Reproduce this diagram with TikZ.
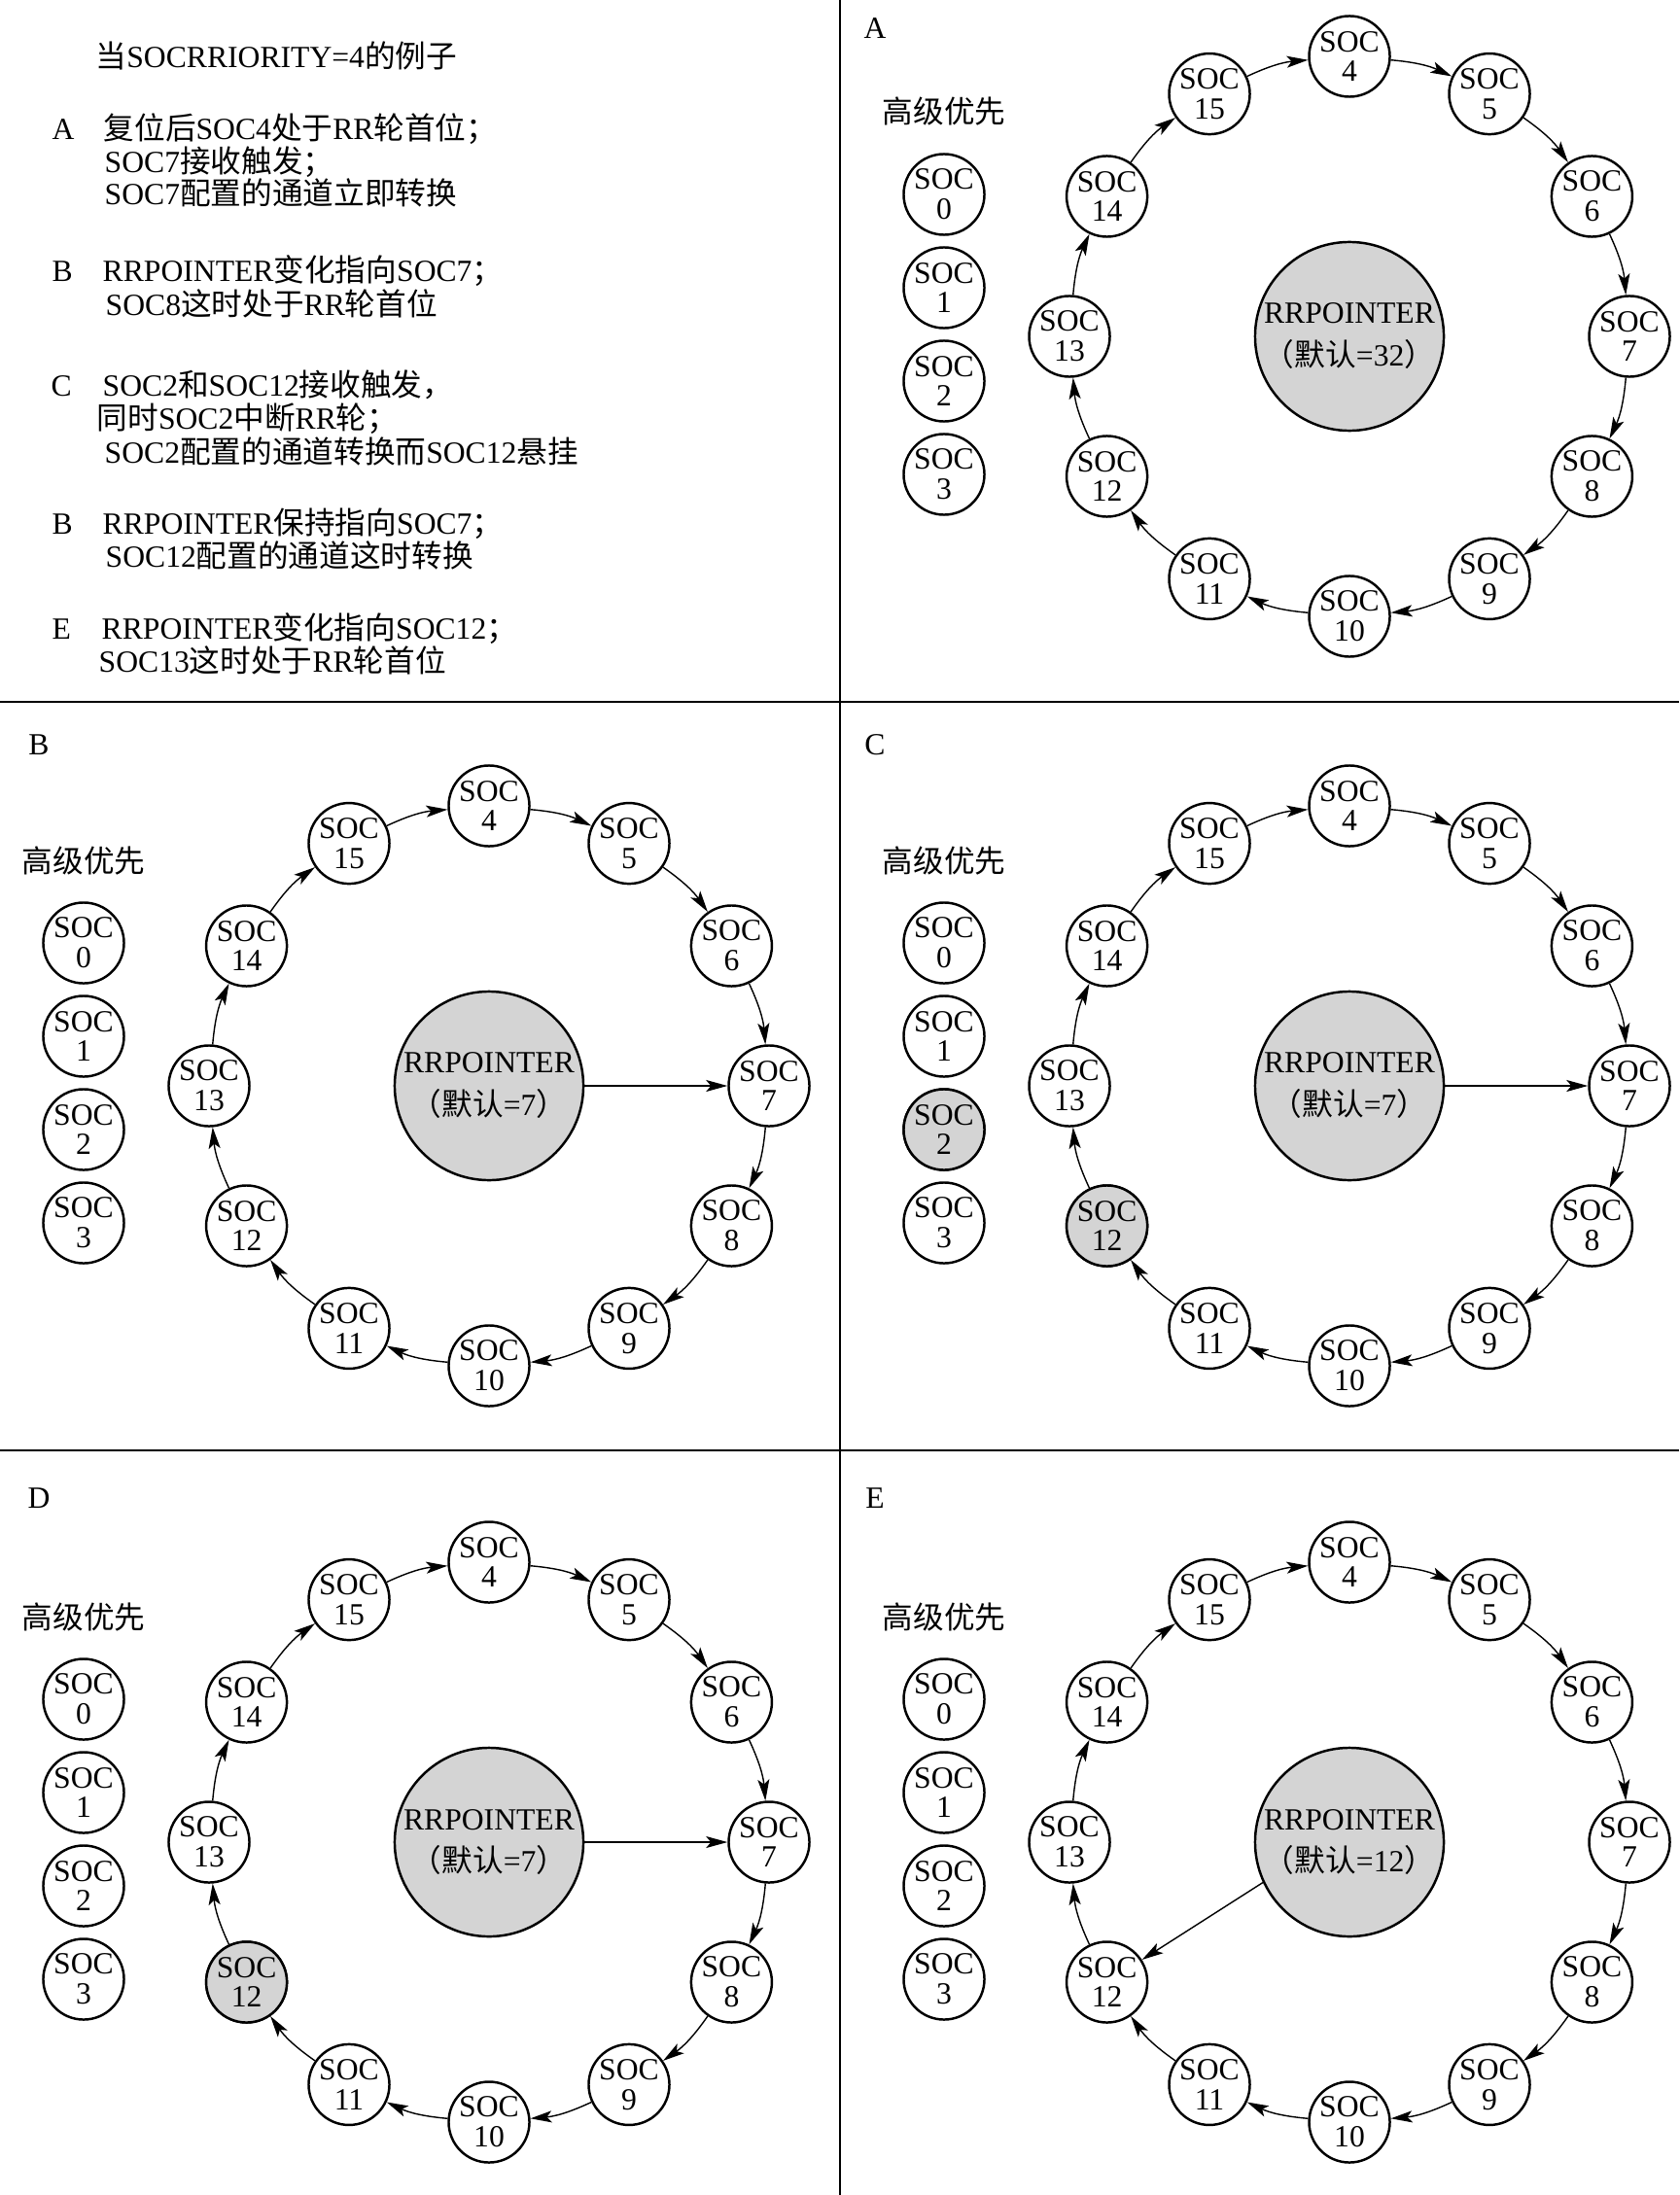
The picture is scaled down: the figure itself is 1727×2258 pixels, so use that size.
\documentclass[tikz,border=0pt]{standalone}
\usepackage{fontspec}
\setmainfont{Liberation Serif}
\newfontfamily\cjk{Noto Sans CJK SC}
\usetikzlibrary{arrows.meta,calc}
\newcommand\zh[1]{{\cjk #1}}
\definecolor{shade}{RGB}{212,212,212}
\tikzset{
 soc/.style={circle,draw,line width=0.7pt,fill=white,minimum size=0.83cm,inner sep=0pt,align=center,font=\fontsize{9pt}{8.8pt}\selectfont},
 ptr/.style={circle,draw,line width=0.7pt,fill=shade,minimum size=1.94cm,inner sep=0pt,align=center,font=\fontsize{9pt}{9pt}\selectfont},
 arr/.style={line width=0.4pt,-{Stealth[length=2.2mm,width=1.2mm,inset=0.5mm]}},
 txt/.style={anchor=base west,inner sep=0pt,font=\fontsize{9pt}{9pt}\selectfont},
 lbl/.style={inner sep=0pt,font=\fontsize{9pt}{9pt}\selectfont},
 divider/.style={line width=0.65pt}
}
\newcommand\ringnodes[4]{%
  \node[ptr] (#1ptr) at (#2,#3) {RRPOINTER\\[3.5pt]\zh{（默认}=#4\zh{）}};
  \foreach \k in {4,...,15}
    \node[soc] (#1s\k) at ($(#2,#3)+({30*\k-210}:288)$) {SOC\\\k};
}
\newcommand\ringarrows[1]{%
  \foreach \a/\b in {4/5,5/6,6/7,7/8,8/9,9/10,10/11,11/12,12/13,13/14,14/15,15/4}
    \draw[arr] (#1s\a) to[bend left=10] (#1s\b);
}
\newcommand\prionodes[3]{%
  \node[lbl] (#1hd) at (#2,{#3-85}) {\zh{高级优先}};
  \foreach \k in {0,...,3}
    \node[soc] (#1p\k) at (#2,{#3+96*\k}) {SOC\\\k};
}
\begin{document}
\begin{tikzpicture}[x=0.01cm,y=-0.01cm]
\fill[white] (0,0) rectangle (1727,2258);
\useasboundingbox (0,0) rectangle (1727,2258);
% dividers
\draw[divider] (864,0) -- (864,2258);
\draw[divider] (0,722) -- (1727,722);
\draw[divider] (0,1492) -- (1727,1492);
% text panel
\node[txt] (t0) at (98,70) {\zh{当}SOCRRIORITY=4\zh{的例子}};
\node[txt] (tA) at (53,144) {A};
\node[txt] (tA1) at (106,144) {\zh{复位后}SOC4\zh{处于}RR\zh{轮首位；}};
\node[txt] (tA2) at (107,178) {SOC7\zh{接收触发；}};
\node[txt] (tA3) at (107,211) {SOC7\zh{配置的通道立即转换}};
\node[txt] (tB) at (53,290) {B};
\node[txt] (tB1) at (105,290) {RRPOINTER\zh{变化指向}SOC7\zh{；}};
\node[txt] (tB2) at (108,324) {SOC8\zh{这时处于}RR\zh{轮首位}};
\node[txt] (tC) at (52,408) {C};
\node[txt] (tC1) at (105,408) {SOC2\zh{和}SOC12\zh{接收触发，}};
\node[txt] (tC2) at (99,442) {\zh{同时}SOC2\zh{中断}RR\zh{轮；}};
\node[txt] (tC3) at (107,476) {SOC2\zh{配置的通道转换而}SOC12\zh{悬挂}};
\node[txt] (tD) at (53,549) {B};
\node[txt] (tD1) at (105,549) {RRPOINTER\zh{保持指向}SOC7\zh{；}};
\node[txt] (tD2) at (108,583) {SOC12\zh{配置的通道这时转换}};
\node[txt] (tE) at (53,657) {E};
\node[txt] (tE1) at (104,657) {RRPOINTER\zh{变化指向}SOC12\zh{；}};
\node[txt] (tE2) at (101,691) {SOC13\zh{这时处于}RR\zh{轮首位}};
% panel labels
\node[lbl] (LA) at (900,29) {A};
\node[lbl] (LB) at (40,766) {B};
\node[lbl] (LC) at (900,766) {C};
\node[lbl] (LD) at (40,1541) {D};
\node[lbl] (LE) at (900,1541) {E};
% panel A
\prionodes{A}{971}{200}
\ringnodes{A}{1388}{346}{32}
\ringarrows{A}
% panel B
\prionodes{B}{86}{970}
\ringnodes{B}{503}{1117}{7}
\ringarrows{B}
\draw[arr] (Bptr) -- (Bs7);
% panel C
\prionodes{C}{971}{970}
\ringnodes{C}{1388}{1117}{7}
\node[soc,fill=shade] (Cp2) at (Cp2) {SOC\\2};
\node[soc,fill=shade] (Cs12) at (Cs12) {SOC\\12};
\ringarrows{C}
\draw[arr] (Cptr) -- (Cs7);
% panel D
\prionodes{D}{86}{1748}
\ringnodes{D}{503}{1895}{7}
\node[soc,fill=shade] (Ds12) at (Ds12) {SOC\\12};
\ringarrows{D}
\draw[arr] (Dptr) -- (Ds7);
% panel E
\prionodes{E}{971}{1748}
\ringnodes{E}{1388}{1895}{12}
\ringarrows{E}
\draw[arr] (Eptr.205) -- (Es12);
\end{tikzpicture}
\end{document}
